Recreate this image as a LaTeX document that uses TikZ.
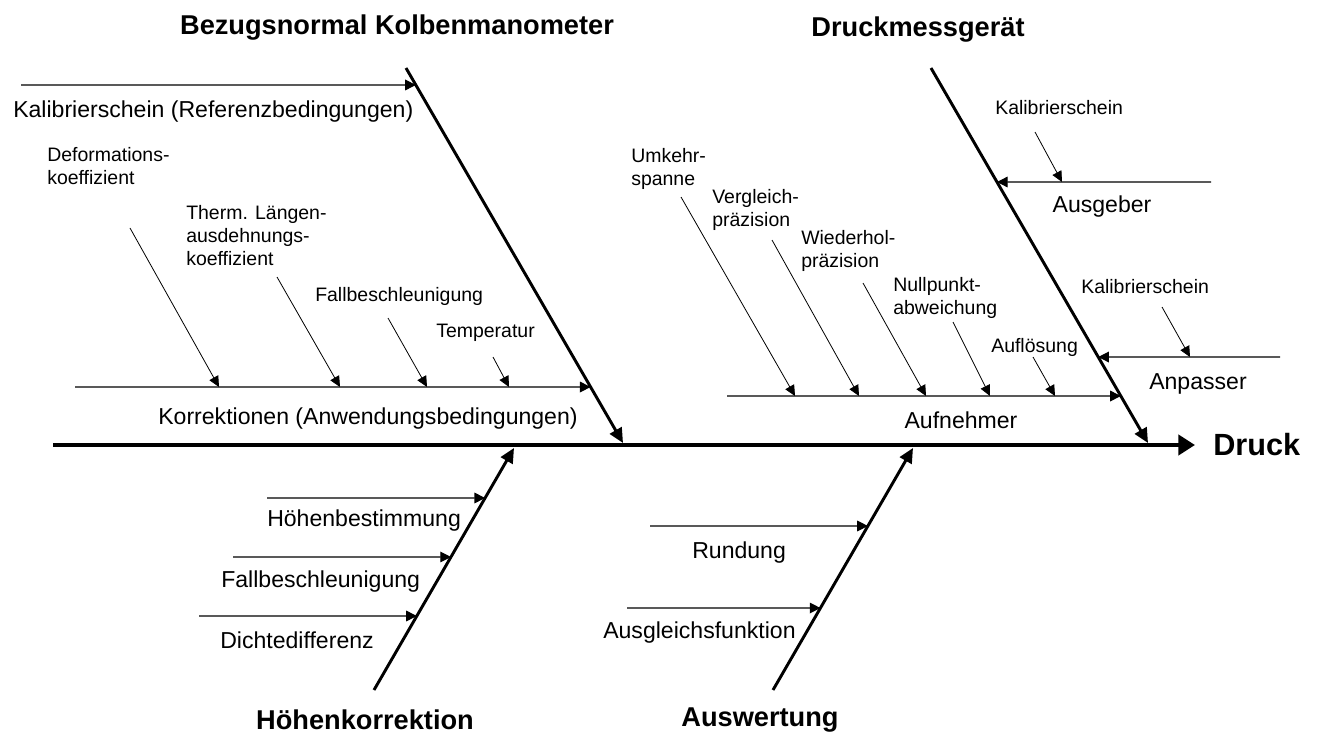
\documentclass[tikz,border=0pt]{standalone}
\usepackage{fontspec}
\setmainfont{Liberation Sans}
\usetikzlibrary{arrows.meta, calc}

\begin{document}
\begin{tikzpicture}[
    x=0.75pt, y=-0.75pt,
    spine/.style={line width=3.4pt, -{Triangle[length=12.5pt, width=15pt]}},
    bone/.style={line width=2.2pt, -{Triangle[length=11pt, width=10pt]}},
    branch/.style={line width=0.9pt, -{Triangle[length=8pt, width=8pt]}},
    cause/.style={line width=0.6pt, -{Triangle[length=8pt, width=7.5pt]}},
    title/.style={font=\fontsize{20.4}{24}\selectfont\bfseries, inner sep=0pt},
    lbl/.style={font=\fontsize{17.3}{20}\selectfont, inner sep=0pt},
    small/.style={font=\fontsize{14.6}{17.25}\selectfont, inner sep=0pt,
                  align=left, anchor=west}
]
  \useasboundingbox (0,0) rectangle (1318,734);

  % titles and effect
  \node[title] (tBez) at (397,28) {Bezugsnormal Kolbenmanometer};
  \node[title] (tDru) at (918,30) {Druckmessgerät};
  \node[title] (tHoe) at (365,720) {Höhenkorrektion};
  \node[title] (tAus) at (760,720) {Auswertung};
  \node[title, font=\fontsize{23}{27}\selectfont\bfseries, anchor=west] (druck) at (1213,445) {Druck};

  % spine and main bones
  \coordinate (sp0) at (53,445);
  \draw[spine] (sp0) -- ([xshift=-13.5pt]druck.west);

  \coordinate (bzTop) at (406,68);
  \coordinate (bzTip) at (623,443);
  \coordinate (dmTop) at (931,68);
  \coordinate (dmTip) at (1148,443);
  \coordinate (hkEnd) at (374,690);
  \coordinate (hkTip) at (514,448);
  \coordinate (awEnd) at (773,690);
  \coordinate (awTip) at (913,448);
  \draw[bone] (bzTop) -- (bzTip);
  \draw[bone] (dmTop) -- (dmTip);
  \draw[bone] (hkEnd) -- (hkTip);
  \draw[bone] (awEnd) -- (awTip);

  % Bezugsnormal Kolbenmanometer
  \node[lbl, anchor=west] (kalRef) at (13,112) {Kalibrierschein (Referenzbedingungen)};
  \coordinate (kalS) at (21,85);
  \coordinate (kalT) at ($(bzTop)!0.0453!(bzTip)$);
  \draw[branch] (kalS) -- (kalT);

  \node[lbl] (korr) at (368,419) {Korrektionen (Anwendungsbedingungen)};
  \coordinate (korS) at (75,387);
  \coordinate (korT) at ($(bzTop)!0.8507!(bzTip)$);
  \draw[branch] (korS) -- (korT);

  \node[small] (deform) at (47,166) {Deformations-\\koeffizient};
  \node[small] (therm) at (186,236) {Therm. Längen-\\ausdehnungs-\\koeffizient};
  \node[small] (fallO) at (315,296) {Fallbeschleunigung};
  \node[small] (temp) at (436,333) {Temperatur};
  \coordinate (deformS) at (130,228);
  \coordinate (deformT) at (219,387);
  \coordinate (thermS) at (277,277);
  \coordinate (thermT) at (340,387);
  \coordinate (fallOS) at (388,318);
  \coordinate (fallOT) at (427,387);
  \coordinate (tempS) at (493,357);
  \coordinate (tempT) at (509,387);
  \draw[cause] (deformS) -- (deformT);
  \draw[cause] (thermS) -- (thermT);
  \draw[cause] (fallOS) -- (fallOT);
  \draw[cause] (tempS) -- (tempT);

  % Druckmessgeraet: Ausgeber, Anpasser, Aufnehmer
  \node[small] (kalA) at (995,108) {Kalibrierschein};
  \node[lbl] (ausg) at (1102,207) {Ausgeber};
  \coordinate (ausS) at (1211,182);
  \coordinate (ausT) at ($(dmTop)!0.304!(dmTip)$);
  \draw[branch] (ausS) -- (ausT);
  \coordinate (kalAS) at (1035,132);
  \coordinate (kalAT) at (1062,182);
  \draw[cause] (kalAS) -- (kalAT);

  \node[small] (kalP) at (1081,287) {Kalibrierschein};
  \node[lbl] (anp) at (1198,384) {Anpasser};
  \coordinate (anpS) at (1280,357);
  \coordinate (anpT) at ($(dmTop)!0.7707!(dmTip)$);
  \draw[branch] (anpS) -- (anpT);
  \coordinate (kalPS) at (1162,307);
  \coordinate (kalPT) at (1190,357);
  \draw[cause] (kalPS) -- (kalPT);

  \node[lbl] (aufn) at (961,420) {Aufnehmer};
  \coordinate (aufS) at (727,396);
  \coordinate (aufT) at ($(dmTop)!0.8747!(dmTip)$);
  \draw[branch] (aufS) -- (aufT);

  \node[small] (umk) at (631,169) {Umkehr-\\spanne};
  \node[small] (vgl) at (712,210) {Vergleich-\\präzision};
  \node[small] (wdh) at (801,251) {Wiederhol-\\präzision};
  \node[small] (null) at (893,298) {Nullpunkt-\\abweichung};
  \node[small] (aufl) at (991,347) {Auflösung};
  \coordinate (umkS) at (681,197);
  \coordinate (umkT) at (795,396);
  \coordinate (vglS) at (772,240);
  \coordinate (vglT) at (859,396);
  \coordinate (wdhS) at (863,283);
  \coordinate (wdhT) at (926,396);
  \coordinate (nullS) at (953,322);
  \coordinate (nullT) at (990,396);
  \coordinate (auflS) at (1033,357);
  \coordinate (auflT) at (1055,396);
  \draw[cause] (umkS) -- (umkT);
  \draw[cause] (vglS) -- (vglT);
  \draw[cause] (wdhS) -- (wdhT);
  \draw[cause] (nullS) -- (nullT);
  \draw[cause] (auflS) -- (auflT);

  % Hoehenkorrektion
  \node[lbl, anchor=west] (hbest) at (267,521) {Höhenbestimmung};
  \node[lbl, anchor=west] (fallU) at (221,582) {Fallbeschleunigung};
  \node[lbl, anchor=west] (dicht) at (220,640) {Dichtedifferenz};
  \coordinate (hbestS) at (267,498);
  \coordinate (hbestT) at ($(hkEnd)!0.7934!(hkTip)$);
  \coordinate (fallUS) at (233,557);
  \coordinate (fallUT) at ($(hkEnd)!0.5496!(hkTip)$);
  \coordinate (dichtS) at (199,616);
  \coordinate (dichtT) at ($(hkEnd)!0.3058!(hkTip)$);
  \draw[branch] (hbestS) -- (hbestT);
  \draw[branch] (fallUS) -- (fallUT);
  \draw[branch] (dichtS) -- (dichtT);

  % Auswertung
  \node[lbl, anchor=west] (rund) at (692,553) {Rundung};
  \node[lbl, anchor=west] (ausgl) at (603,633) {Ausgleichsfunktion};
  \coordinate (rundS) at (650,526);
  \coordinate (rundT) at ($(awEnd)!0.6777!(awTip)$);
  \coordinate (ausglS) at (627,608);
  \coordinate (ausglT) at ($(awEnd)!0.3388!(awTip)$);
  \draw[branch] (rundS) -- (rundT);
  \draw[branch] (ausglS) -- (ausglT);
\end{tikzpicture}
\end{document}
